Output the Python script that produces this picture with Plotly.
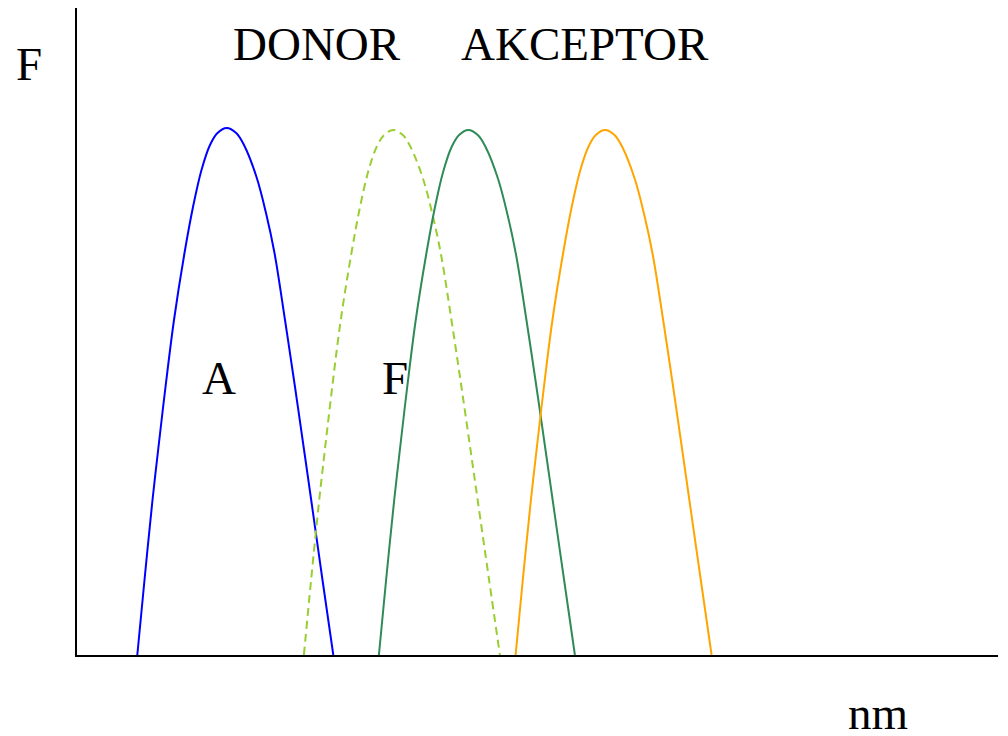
import plotly.graph_objects as go

# Curve data (x: wavelength position in arbitrary units, y: intensity in arbitrary units)
donor_abs_x = [60.3, 67.5, 75.5, 80.8, 88.5, 97.0, 107.5, 116.0, 124.5, 133.0, 140.5, 149.7,
               159.2, 167.0, 179.5, 189.0, 197.5, 208.0, 218.0, 227.5, 234.2, 245.5, 256.3]
donor_abs_y = [0, 75, 155, 202, 268, 335, 402, 448, 485, 510, 522, 527,
               522, 510, 478, 442, 402, 335, 268, 202, 155, 75, 0]

donor_fl_x = [226.9, 234.1, 242.1, 247.4, 255.1, 263.6, 274.1, 282.6, 291.1, 299.6, 307.1, 316.3,
              325.8, 333.6, 346.1, 355.6, 364.1, 374.6, 384.6, 394.1, 400.8, 412.1, 422.9]
donor_fl_y = [0, 75, 154, 201, 267, 334, 400, 446, 483, 508, 520, 525,
              520, 508, 476, 440, 400, 334, 267, 201, 154, 75, 0]

acc_abs_x = [301.9, 309.1, 317.1, 322.4, 330.1, 338.6, 349.1, 357.6, 366.1, 374.6, 382.1, 391.3,
             400.8, 408.6, 421.1, 430.6, 439.1, 449.6, 459.6, 469.1, 475.8, 487.1, 497.9]
acc_abs_y = [0, 75, 154, 201, 267, 334, 400, 446, 483, 508, 520, 525,
             520, 508, 476, 440, 400, 334, 267, 201, 154, 75, 0]

acc_fl_x = [438.6, 445.8, 453.8, 459.1, 466.8, 475.3, 485.8, 494.3, 502.8, 511.3, 518.8, 528.0,
            537.5, 545.3, 557.8, 567.3, 575.8, 586.3, 596.3, 605.8, 612.5, 623.8, 634.6]
acc_fl_y = [0, 75, 154, 201, 267, 334, 400, 446, 483, 508, 520, 525,
            520, 508, 476, 440, 400, 334, 267, 201, 154, 75, 0]

x_range = [0, 921]
y_range = [0, 647]

FONT = "Liberation Serif, Times New Roman, serif"

fig = go.Figure()
fig.add_trace(go.Scatter(x=donor_abs_x, y=donor_abs_y, mode="lines",
                         line=dict(color="#0000FF", width=2, shape="spline", smoothing=1.0)))
fig.add_trace(go.Scatter(x=donor_fl_x, y=donor_fl_y, mode="lines",
                         line=dict(color="#9ACD32", width=2, dash="8px,5px", shape="spline", smoothing=1.0)))
fig.add_trace(go.Scatter(x=acc_abs_x, y=acc_abs_y, mode="lines",
                         line=dict(color="#2E8B57", width=2, shape="spline", smoothing=1.0)))
fig.add_trace(go.Scatter(x=acc_fl_x, y=acc_fl_y, mode="lines",
                         line=dict(color="#FFA500", width=2, shape="spline", smoothing=1.0)))

def ann(text, x, y):
    return dict(text=text, x=x, y=y, xref="paper", yref="paper",
                xanchor="center", yanchor="middle", showarrow=False,
                font=dict(family=FONT, size=47, color="black"))

fig.update_layout(
    width=1000, height=728,
    margin=dict(l=69, r=10, t=0, b=81, autoexpand=False),
    paper_bgcolor="white", plot_bgcolor="white",
    showlegend=False,
    xaxis=dict(range=x_range, showgrid=False, zeroline=False, showticklabels=False,
               ticks="", showline=True, linecolor="black", linewidth=2, automargin=False),
    yaxis=dict(range=y_range, showgrid=False, zeroline=False, showticklabels=False,
               ticks="", showline=True, linecolor="black", linewidth=1.5, automargin=False),
    annotations=[
        ann("F", -0.0521, 0.9127),
        ann("DONOR", 0.2606, 0.9436),
        ann("AKCEPTOR", 0.5516, 0.9436),
        ann("A", 0.1545, 0.4281),
        ann("F", 0.3458, 0.4281),
        ann("nm", 0.8702, -0.0896),
    ],
)

fig.write_html("out.html")
